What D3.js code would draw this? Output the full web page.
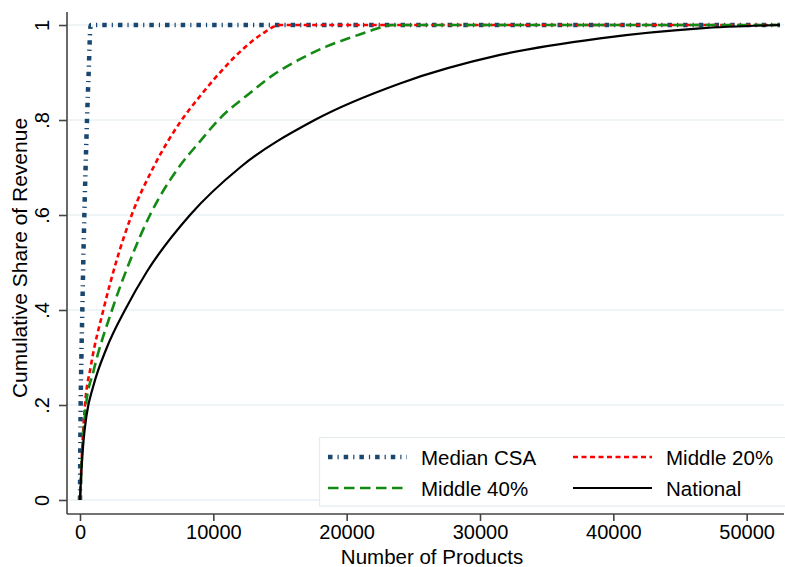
<!DOCTYPE html>
<html>
<head>
<meta charset="utf-8">
<script src="https://cdn.jsdelivr.net/npm/d3@7"></script>
<style>
  html, body { margin: 0; padding: 0; background: #fff; }
  svg { display: block; }
  text { font-family: "Liberation Sans", Arial, Helvetica, sans-serif; fill: #000; }
</style>
</head>
<body>
<svg id="chart" width="785" height="567"></svg>
<script>
// Cumulative share of revenue against number of products (n, share)
const medianCSA = [[0,0],[20,0.1],[50,0.2],[105,0.3],[175,0.4],[245,0.5],[325,0.6],[420,0.7],[525,0.8],[650,0.9],[800,1.0],[52500,1.0]];
const middle20 = [[0,0],[150,0.1],[375,0.2],[800,0.28],[1750,0.4],[2700,0.5],[3875,0.6],[5500,0.7],[7625,0.8],[9000,0.85],[10500,0.9],[12250,0.95],[13700,0.982],[15000,1.0],[52500,1.0]];
const middle40 = [[0,0],[150,0.09],[450,0.2],[1000,0.27],[2400,0.4],[3700,0.5],[5250,0.6],[7400,0.7],[9000,0.755],[10375,0.8],[12750,0.857],[14500,0.895],[16500,0.928],[18500,0.955],[20250,0.973],[21800,0.988],[23500,1.0],[52500,1.0]];
const national = [[0,0],[100,0.06],[250,0.12],[500,0.18],[1000,0.24],[2000,0.32],[3375,0.40],[5000,0.48],[8250,0.60],[12000,0.70],[17600,0.80],[24000,0.877],[31500,0.937],[39000,0.972],[46500,0.993],[52500,1.0]];

const seriesNames = ["Median CSA", "Middle 20%", "Middle 40%", "National"];
const xTicks = [0, 10000, 20000, 30000, 40000, 50000];
const yTicks = [0, 0.2, 0.4, 0.6, 0.8, 1];
const yTickLabels = ["0", ".2", ".4", ".6", ".8", "1"];

const styles = [
  { color: "#1a476f", width: 4.5, dash: "4.5,5,1.2,5" },
  { color: "#ff0000", width: 2.6, dash: "5,3.5" },
  { color: "#138a13", width: 2.6, dash: "10.5,5.5" },
  { color: "#000000", width: 2.2, dash: null }
];
const seriesData = [medianCSA, middle20, middle40, national];

const svg = d3.select("#chart");
const plotLeft = 67, plotRight = 784, plotTop = 12, plotBottom = 514;

const x = d3.scaleLinear().domain([-975, 52800]).range([plotLeft, plotRight]);
const y = d3.scaleLinear().domain([-0.0295, 1.0274]).range([plotBottom, plotTop]);

// grid lines
svg.append("g").selectAll("line").data(yTicks).join("line")
  .attr("x1", plotLeft).attr("x2", plotRight)
  .attr("y1", d => y(d)).attr("y2", d => y(d))
  .attr("stroke", "#eaf2f3").attr("stroke-width", 1.5);

// curves
const line = d3.line().x(d => x(d[0])).y(d => y(d[1])).curve(d3.curveMonotoneX);
const curves = svg.append("g");
seriesData.forEach((data, i) => {
  const s = styles[i];
  curves.append("path").datum(data)
    .attr("d", line)
    .attr("fill", "none")
    .attr("stroke", s.color)
    .attr("stroke-width", s.width)
    .attr("stroke-dasharray", s.dash)
    .attr("stroke-linejoin", "round");
});

// y axis
const yAxis = d3.axisLeft(y).tickValues(yTicks)
  .tickFormat((d, i) => yTickLabels[i]).tickSize(8).tickPadding(0);
const gy = svg.append("g").attr("transform", `translate(${plotLeft},0)`).call(yAxis);
gy.select(".domain").attr("d", `M0,${plotTop}V${plotBottom}`).attr("stroke", "#444").attr("stroke-width", 1.6);
gy.selectAll(".tick line").attr("stroke", "#444").attr("stroke-width", 1.6);
gy.selectAll(".tick text")
  .attr("font-size", 20).attr("text-anchor", "middle")
  .attr("x", null).attr("dy", null)
  .attr("transform", "translate(-18,0) rotate(-90)")
  .attr("y", 0);

// x axis
const xAxis = d3.axisBottom(x).tickValues(xTicks).tickFormat(d3.format("d")).tickSize(7).tickPadding(4);
const gx = svg.append("g").attr("transform", `translate(0,${plotBottom})`).call(xAxis);
gx.select(".domain").attr("d", `M${plotLeft},0H${plotRight}`).attr("stroke", "#444").attr("stroke-width", 1.6);
gx.selectAll(".tick line").attr("stroke", "#444").attr("stroke-width", 1.6);
gx.selectAll(".tick text").attr("font-size", 20);

// axis titles
svg.append("text").attr("x", 432).attr("y", 564)
  .attr("text-anchor", "middle").attr("font-size", 20.5).text("Number of Products");
svg.append("text").attr("transform", "translate(27,258) rotate(-90)")
  .attr("text-anchor", "middle").attr("font-size", 21).text("Cumulative Share of Revenue");

// legend
const legend = svg.append("g");
legend.append("rect").attr("x", 319.5).attr("y", 437.5).attr("width", 470).attr("height", 68.5)
  .attr("fill", "#fff").attr("stroke", "#e4ecee").attr("stroke-width", 1.2);
const legendPos = [
  { lx: 328, ly: 457 }, { lx: 573, ly: 457 },
  { lx: 328, ly: 488 }, { lx: 573, ly: 488 }
];
seriesNames.forEach((name, i) => {
  const p = legendPos[i], s = styles[i];
  legend.append("line").attr("x1", p.lx).attr("x2", p.lx + 79)
    .attr("y1", p.ly).attr("y2", p.ly)
    .attr("stroke", s.color).attr("stroke-width", s.width).attr("stroke-dasharray", s.dash);
  legend.append("text").attr("x", p.lx + 93).attr("y", p.ly + 7.5)
    .attr("font-size", 20.5).text(name);
});
</script>
</body>
</html>
